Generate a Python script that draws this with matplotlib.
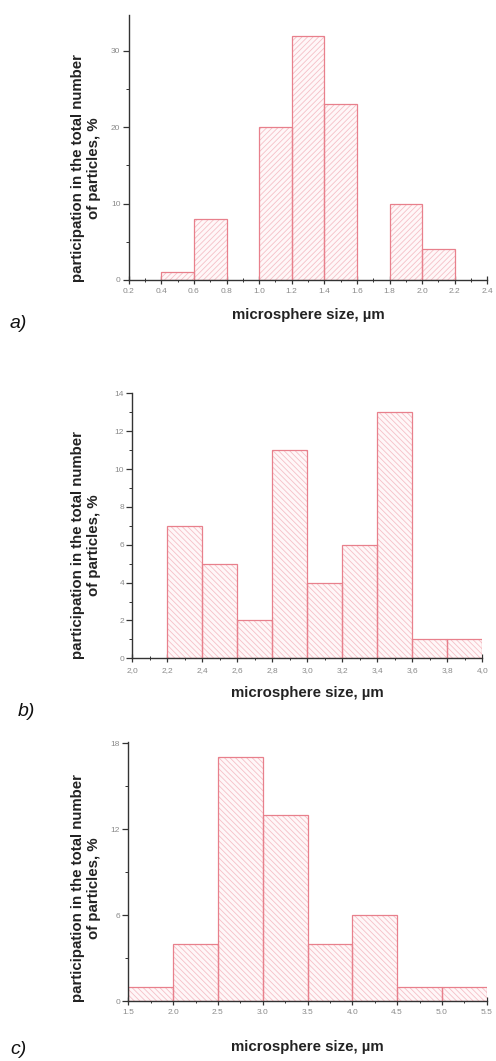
import numpy as np
import matplotlib
matplotlib.use("Agg")
import matplotlib.pyplot as plt
from matplotlib.ticker import MultipleLocator, FuncFormatter

plt.rcParams['font.family'] = ['Liberation Sans', 'DejaVu Sans']
plt.rcParams['hatch.linewidth'] = 0.6

# ---- data (bin edges in um, share of particles in %) ----
a_edges = [0.4, 0.6, 1.0, 1.2, 1.4, 1.8, 2.0]
a_values = [1, 8, 20, 32, 23, 10, 4]
a_width = 0.2

b_edges = [2.2, 2.4, 2.6, 2.8, 3.0, 3.2, 3.4, 3.6, 3.8]
b_values = [7, 5, 2, 11, 4, 6, 13, 1, 1]
b_width = 0.2

c_edges = [1.5, 2.0, 2.5, 3.0, 3.5, 4.0, 4.5, 5.0]
c_values = [1, 4, 17, 13, 4, 6, 1, 1]
c_width = 0.5

YLABEL = "participation in the total number\nof particles, %"
XLABEL = "microsphere size, \u00b5m"

EDGE = "#e8808c"
HATCH = "#f5c0c7"
FILL = "#fff7f8"

W, H = 496, 1061
fig = plt.figure(figsize=(W / 100, H / 100), dpi=100)


def px_axes(left, right, top, bottom):
    return fig.add_axes([left / W, 1 - bottom / H, (right - left) / W, (bottom - top) / H])


def draw_panel(ax, edges, values, width, hatch, xlim, ylim, xmaj, xmin, ymaj, ymin, comma):
    ax.bar(edges, values, width=width, align="edge", color=FILL, edgecolor=HATCH,
           hatch=hatch, linewidth=0, zorder=2)
    ax.bar(edges, values, width=width, align="edge", fill=False, edgecolor=EDGE,
           linewidth=0.9, zorder=3)
    ax.set_xlim(*xlim)
    ax.set_ylim(*ylim)
    for s in ("top", "right"):
        ax.spines[s].set_visible(False)
    for s in ("left", "bottom"):
        ax.spines[s].set_color("#333333")
        ax.spines[s].set_linewidth(1.0)
        ax.spines[s].set_zorder(4)
    ax.xaxis.set_major_locator(MultipleLocator(xmaj))
    ax.xaxis.set_minor_locator(MultipleLocator(xmin))
    ax.yaxis.set_major_locator(MultipleLocator(ymaj))
    ax.yaxis.set_minor_locator(MultipleLocator(ymin))
    if comma:
        ax.xaxis.set_major_formatter(FuncFormatter(lambda v, p: f"{v:.1f}".replace(".", ",")))
    else:
        ax.xaxis.set_major_formatter(FuncFormatter(lambda v, p: f"{v:.1f}"))
    ax.yaxis.set_major_formatter(FuncFormatter(lambda v, p: f"{v:.0f}"))
    ax.tick_params(axis="x", which="major", direction="inout", length=6, width=0.9,
                   color="#333333", labelsize=6, labelcolor="#8a8a8a", pad=3)
    ax.tick_params(axis="x", which="minor", direction="inout", length=3, width=0.7,
                   color="#333333")
    ax.tick_params(axis="y", which="major", direction="out", length=4, width=0.9,
                   color="#333333", labelsize=6, labelcolor="#8a8a8a", pad=2)
    ax.tick_params(axis="y", which="minor", direction="out", length=2, width=0.7,
                   color="#333333")
    ax.set_facecolor("none")


# panel a
ax_a = px_axes(128.7, 487.3, 15, 280)
draw_panel(ax_a, a_edges, a_values, a_width, "//////", (0.2, 2.4), (0, 34.7),
           0.2, 0.1, 10, 5, False)
# panel b
ax_b = px_axes(132.3, 482.3, 393.3, 658.3)
draw_panel(ax_b, b_edges, b_values, b_width, "\\\\\\\\\\\\", (2.0, 4.0), (0, 14),
           0.2, 0.1, 2, 1, True)
# panel c
ax_c = px_axes(128.3, 486.7, 741.7, 1001)
draw_panel(ax_c, c_edges, c_values, c_width, "\\\\\\\\\\\\", (1.5, 5.5), (0, 18.1),
           0.5, 0.25, 6, 3, False)

# y labels
for xc, yc in [(86, 168), (86, 545), (86, 888)]:
    fig.text(xc / W, 1 - yc / H, YLABEL, rotation=90, ha="center", va="center",
             fontsize=10.8, fontweight="bold", color="#222222", linespacing=1.25)

# x labels
for xc, yc in [(308, 315), (307, 693), (307, 1047)]:
    fig.text(xc / W, 1 - yc / H, XLABEL, ha="center", va="center",
             fontsize=10.8, fontweight="bold", color="#222222")

# panel letters
for lab, xl, yc in [("a)", 10, 324), ("b)", 18, 712), ("c)", 10, 1050)]:
    fig.text(xl / W, 1 - yc / H, lab, ha="left", va="center", fontsize=14,
             style="italic", color="#111111")

fig.savefig("out.png", dpi=100)
